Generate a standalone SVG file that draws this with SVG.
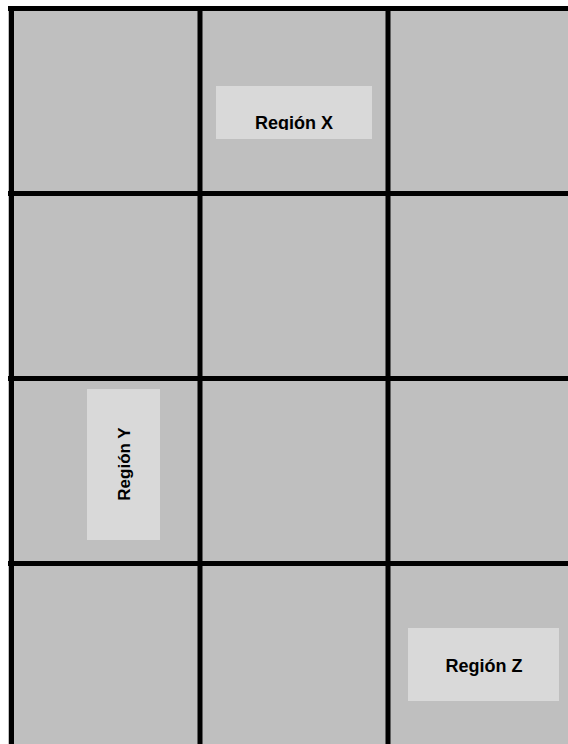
<svg xmlns="http://www.w3.org/2000/svg" width="568" height="744" viewBox="0 0 568 744">
  <style>
    .cell { fill: #bfbfbf; }
    .grid line { stroke: #000000; stroke-width: 5; }
    .box { fill: #d9d9d9; }
    .label { font-family: "Liberation Sans", Arial, sans-serif; font-weight: bold; font-size: 18px; fill: #000000; text-anchor: middle; }
  </style>
  <defs>
    <clipPath id="clipX">
      <rect x="216" y="86" width="156" height="44"/>
    </clipPath>
  </defs>
  <rect x="0" y="0" width="568" height="744" fill="#ffffff"/>
  <rect class="cell" x="8" y="6" width="560" height="738"/>
  <g id="grid" class="grid">
    <line x1="8" y1="8.5" x2="568" y2="8.5"/>
    <line x1="8" y1="193.5" x2="568" y2="193.5"/>
    <line x1="8" y1="378.5" x2="568" y2="378.5"/>
    <line x1="8" y1="563.5" x2="568" y2="563.5"/>
    <line x1="11.5" y1="6" x2="11.5" y2="744"/>
    <line x1="200" y1="6" x2="200" y2="744"/>
    <line x1="388" y1="6" x2="388" y2="744"/>
  </g>
  <g id="region-x">
    <rect class="box" x="216" y="86" width="156" height="53"/>
    <text class="label" x="294" y="129" clip-path="url(#clipX)">Región X</text>
  </g>
  <g id="region-y">
    <rect class="box" x="87" y="389" width="73" height="151"/>
    <text class="label" style="font-size:17px" transform="translate(129.5,464) rotate(-90)" x="0" y="0">Región Y</text>
  </g>
  <g id="region-z">
    <rect class="box" x="408" y="628" width="151" height="73"/>
    <text class="label" x="484" y="671.5">Región Z</text>
  </g>
</svg>
